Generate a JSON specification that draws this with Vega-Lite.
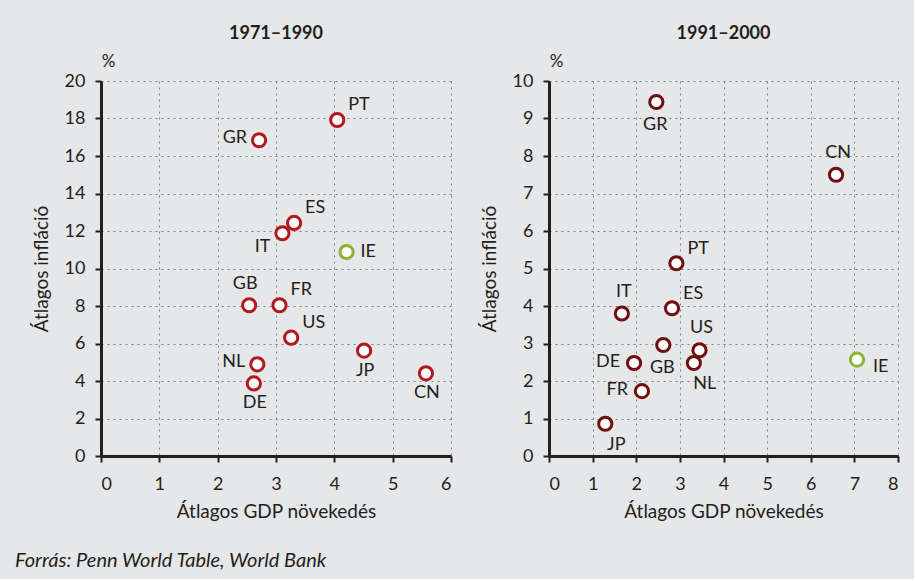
{
  "$schema": "https://vega.github.io/schema/vega-lite/v6.json",
  "background": "#e6e7e8",
  "padding": {"left": 15, "top": 25, "right": 15, "bottom": 8},
  "bounds": "flush",
  "spacing": 98,
  "datasets": {
    "adatok": [
      {"idoszak": "1971–1990", "orszag": "PT", "gdp": 4.05, "inflacio": 17.92},
      {"idoszak": "1971–1990", "orszag": "GR", "gdp": 2.71, "inflacio": 16.84},
      {"idoszak": "1971–1990", "orszag": "ES", "gdp": 3.31, "inflacio": 12.43},
      {"idoszak": "1971–1990", "orszag": "IT", "gdp": 3.11, "inflacio": 11.88},
      {"idoszak": "1971–1990", "orszag": "IE", "gdp": 4.21, "inflacio": 10.88},
      {"idoszak": "1971–1990", "orszag": "GB", "gdp": 2.54, "inflacio": 8.04},
      {"idoszak": "1971–1990", "orszag": "FR", "gdp": 3.06, "inflacio": 8.04},
      {"idoszak": "1971–1990", "orszag": "US", "gdp": 3.26, "inflacio": 6.31},
      {"idoszak": "1971–1990", "orszag": "JP", "gdp": 4.51, "inflacio": 5.62},
      {"idoszak": "1971–1990", "orszag": "NL", "gdp": 2.68, "inflacio": 4.89},
      {"idoszak": "1971–1990", "orszag": "DE", "gdp": 2.62, "inflacio": 3.87},
      {"idoszak": "1971–1990", "orszag": "CN", "gdp": 5.57, "inflacio": 4.41},
      {"idoszak": "1991–2000", "orszag": "GR", "gdp": 2.46, "inflacio": 9.44},
      {"idoszak": "1991–2000", "orszag": "CN", "gdp": 6.58, "inflacio": 7.5},
      {"idoszak": "1991–2000", "orszag": "PT", "gdp": 2.92, "inflacio": 5.14},
      {"idoszak": "1991–2000", "orszag": "IT", "gdp": 1.67, "inflacio": 3.8},
      {"idoszak": "1991–2000", "orszag": "ES", "gdp": 2.82, "inflacio": 3.94},
      {"idoszak": "1991–2000", "orszag": "GB", "gdp": 2.62, "inflacio": 2.96},
      {"idoszak": "1991–2000", "orszag": "US", "gdp": 3.45, "inflacio": 2.82},
      {"idoszak": "1991–2000", "orszag": "NL", "gdp": 3.32, "inflacio": 2.48},
      {"idoszak": "1991–2000", "orszag": "DE", "gdp": 1.95, "inflacio": 2.48},
      {"idoszak": "1991–2000", "orszag": "FR", "gdp": 2.13, "inflacio": 1.73},
      {"idoszak": "1991–2000", "orszag": "JP", "gdp": 1.29, "inflacio": 0.86},
      {"idoszak": "1991–2000", "orszag": "IE", "gdp": 7.06, "inflacio": 2.57}
    ]
  },
  "data": {"name": "adatok"},
  "title": {
    "text": "Forrás: Penn World Table, World Bank",
    "orient": "bottom",
    "anchor": "start",
    "frame": "group",
    "dx": -86,
    "offset": 30,
    "fontStyle": "italic",
    "fontWeight": "normal",
    "fontSize": 20,
    "font": "Lato",
    "color": "#231f20"
  },
  "hconcat": [
    {
      "width": 350,
      "height": 375,
      "title": {"text": "1971–1990", "offset": 9},
      "transform": [{"filter": "datum.idoszak === '1971–1990'"}],
      "resolve": {"axis": {"y": "independent"}},
      "layer": [
        {
          "mark": {"type": "circle", "fill": "white", "size": 175, "strokeWidth": 3, "opacity": 1},
          "encoding": {
            "x": {"field": "gdp", "type": "quantitative", "scale": {"domain": [0, 6], "nice": false},
                  "axis": {"title": "Átlagos GDP növekedés", "values": [0, 1, 2, 3, 4, 5, 6], "format": "d"}},
            "y": {"field": "inflacio", "type": "quantitative", "scale": {"domain": [0, 20], "nice": false},
                  "axis": {"title": "Átlagos infláció", "values": [0, 2, 4, 6, 8, 10, 12, 14, 16, 18, 20], "format": "d", "orient": "left"}},
            "stroke": {"condition": {"test": "datum.orszag === 'IE'", "value": "#8cb43c"}, "value": "#b2191f"}
          }
        },
        {
          "transform": [{"filter": {"field": "orszag", "oneOf": ["PT", "ES", "FR", "US"]}}],
          "mark": {"type": "text", "align": "left", "baseline": "middle", "dx": 11, "dy": -15},
          "encoding": {
            "x": {"field": "gdp", "type": "quantitative"},
            "y": {"field": "inflacio", "type": "quantitative",
                  "axis": {"title": "%", "orient": "left", "titleAngle": 0, "titleX": 7, "titleY": -20, "titleAlign": "center", "titleBaseline": "middle", "titleFontSize": 17, "labels": false, "ticks": false, "domain": false, "grid": false}},
            "text": {"field": "orszag"}
          }
        },
        {
          "transform": [{"filter": {"field": "orszag", "oneOf": ["GR", "NL"]}}],
          "mark": {"type": "text", "align": "right", "baseline": "middle", "dx": -12, "dy": -2},
          "encoding": {
            "x": {"field": "gdp", "type": "quantitative"},
            "y": {"field": "inflacio", "type": "quantitative", "axis": null},
            "text": {"field": "orszag"}
          }
        },
        {
          "transform": [{"filter": {"field": "orszag", "oneOf": ["IT"]}}],
          "mark": {"type": "text", "align": "right", "baseline": "middle", "dx": -12, "dy": 14},
          "encoding": {
            "x": {"field": "gdp", "type": "quantitative"},
            "y": {"field": "inflacio", "type": "quantitative", "axis": null},
            "text": {"field": "orszag"}
          }
        },
        {
          "transform": [{"filter": {"field": "orszag", "oneOf": ["IE"]}}],
          "mark": {"type": "text", "align": "left", "baseline": "middle", "dx": 14, "dy": 0},
          "encoding": {
            "x": {"field": "gdp", "type": "quantitative"},
            "y": {"field": "inflacio", "type": "quantitative", "axis": null},
            "text": {"field": "orszag"}
          }
        },
        {
          "transform": [{"filter": {"field": "orszag", "oneOf": ["GB"]}}],
          "mark": {"type": "text", "align": "center", "baseline": "middle", "dx": -4, "dy": -21},
          "encoding": {
            "x": {"field": "gdp", "type": "quantitative"},
            "y": {"field": "inflacio", "type": "quantitative", "axis": null},
            "text": {"field": "orszag"}
          }
        },
        {
          "transform": [{"filter": {"field": "orszag", "oneOf": ["JP", "DE", "CN"]}}],
          "mark": {"type": "text", "align": "center", "baseline": "middle", "dx": 1, "dy": 20},
          "encoding": {
            "x": {"field": "gdp", "type": "quantitative"},
            "y": {"field": "inflacio", "type": "quantitative", "axis": null},
            "text": {"field": "orszag"}
          }
        }
      ]
    },
    {
      "width": 349,
      "height": 375,
      "title": {"text": "1991–2000", "offset": 9},
      "transform": [{"filter": "datum.idoszak === '1991–2000'"}],
      "resolve": {"axis": {"y": "independent"}},
      "layer": [
        {
          "mark": {"type": "circle", "fill": "white", "size": 175, "strokeWidth": 3, "opacity": 1},
          "encoding": {
            "x": {"field": "gdp", "type": "quantitative", "scale": {"domain": [0, 8], "nice": false},
                  "axis": {"title": "Átlagos GDP növekedés", "values": [0, 1, 2, 3, 4, 5, 6, 7, 8], "format": "d"}},
            "y": {"field": "inflacio", "type": "quantitative", "scale": {"domain": [0, 10], "nice": false},
                  "axis": {"title": "Átlagos infláció", "values": [0, 1, 2, 3, 4, 5, 6, 7, 8, 9, 10], "format": "d", "orient": "left"}},
            "stroke": {"condition": {"test": "datum.orszag === 'IE'", "value": "#8cb43c"}, "value": "#6e1012"}
          }
        },
        {
          "transform": [{"filter": {"field": "orszag", "oneOf": ["PT", "ES"]}}],
          "mark": {"type": "text", "align": "left", "baseline": "middle", "dx": 11, "dy": -14},
          "encoding": {
            "x": {"field": "gdp", "type": "quantitative"},
            "y": {"field": "inflacio", "type": "quantitative",
                  "axis": {"title": "%", "orient": "left", "titleAngle": 0, "titleX": 7, "titleY": -20, "titleAlign": "center", "titleBaseline": "middle", "titleFontSize": 17, "labels": false, "ticks": false, "domain": false, "grid": false}},
            "text": {"field": "orszag"}
          }
        },
        {
          "transform": [{"filter": {"field": "orszag", "oneOf": ["DE", "FR"]}}],
          "mark": {"type": "text", "align": "right", "baseline": "middle", "dx": -14, "dy": -1},
          "encoding": {
            "x": {"field": "gdp", "type": "quantitative"},
            "y": {"field": "inflacio", "type": "quantitative", "axis": null},
            "text": {"field": "orszag"}
          }
        },
        {
          "transform": [{"filter": {"field": "orszag", "oneOf": ["IE"]}}],
          "mark": {"type": "text", "align": "left", "baseline": "middle", "dx": 16, "dy": 7},
          "encoding": {
            "x": {"field": "gdp", "type": "quantitative"},
            "y": {"field": "inflacio", "type": "quantitative", "axis": null},
            "text": {"field": "orszag"}
          }
        },
        {
          "transform": [{"filter": {"field": "orszag", "oneOf": ["CN", "IT", "US"]}}],
          "mark": {"type": "text", "align": "center", "baseline": "middle", "dx": 2, "dy": -22},
          "encoding": {
            "x": {"field": "gdp", "type": "quantitative"},
            "y": {"field": "inflacio", "type": "quantitative", "axis": null},
            "text": {"field": "orszag"}
          }
        },
        {
          "transform": [{"filter": {"field": "orszag", "oneOf": ["GR", "GB"]}}],
          "mark": {"type": "text", "align": "center", "baseline": "middle", "dx": -1, "dy": 23},
          "encoding": {
            "x": {"field": "gdp", "type": "quantitative"},
            "y": {"field": "inflacio", "type": "quantitative", "axis": null},
            "text": {"field": "orszag"}
          }
        },
        {
          "transform": [{"filter": {"field": "orszag", "oneOf": ["NL", "JP"]}}],
          "mark": {"type": "text", "align": "center", "baseline": "middle", "dx": 11, "dy": 21},
          "encoding": {
            "x": {"field": "gdp", "type": "quantitative"},
            "y": {"field": "inflacio", "type": "quantitative", "axis": null},
            "text": {"field": "orszag"}
          }
        }
      ]
    }
  ],
  "config": {
    "view": {"stroke": null},
    "font": "Lato",
    "text": {"font": "Lato", "fontSize": 18, "color": "#231f20"},
    "axis": {
      "labelFont": "Lato", "titleFont": "Lato", "labelFontSize": 18, "titleFontSize": 19,
      "labelColor": "#231f20", "titleColor": "#231f20", "titleFontWeight": "normal",
      "domainColor": "#231f20", "domainWidth": 3, "tickColor": "#231f20", "tickWidth": 2, "tickSize": 6,
      "gridColor": "#7f7f7f", "gridDash": [2, 4], "gridWidth": 1, "gridOpacity": 1,
      "labelPadding": 10
    },
    "axisY": {"titlePadding": 13},
    "axisX": {"titlePadding": 9, "labelPadding": 13},
    "title": {"font": "Lato", "fontSize": 18, "fontWeight": "bold", "color": "#231f20"}
  }
}
